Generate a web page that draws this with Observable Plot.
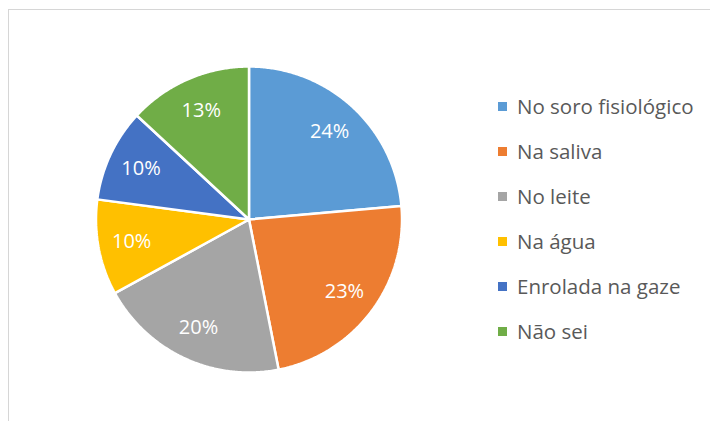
<!DOCTYPE html>
<html>
<head>
<meta charset="utf-8">
<script src="https://cdn.jsdelivr.net/npm/d3@7"></script>
<script src="https://cdn.jsdelivr.net/npm/@observablehq/plot@0.6"></script>
<style>
  body { margin: 0; background: #fff; width: 710px; height: 421px; overflow: hidden; position: relative; font-family: "Open Sans", sans-serif; }
  #frame { position: absolute; left: 8px; top: 9px; width: 800px; height: 500px; border-left: 1px solid #d6d6d6; border-top: 1px solid #d6d6d6; }
  #chart { position: absolute; left: 0; top: 0; }
  .item { position: absolute; left: 498px; height: 26px; display: flex; align-items: center; white-space: nowrap; color: #595959; font-size: 20.5px; }
  .sw { width: 9px; height: 9px; margin-right: 10px; flex: none; }
</style>
</head>
<body>
<div id="frame"></div>
<div id="chart"></div>
<div id="legend"></div>
<script>
const categories = ["No soro fisiológico", "Na saliva", "No leite", "Na água", "Enrolada na gaze", "Não sei"];
const values = [23.6, 23.3, 20.1, 10.1, 9.8, 13.1];
const colors = ["#5B9BD5", "#ED7D31", "#A5A5A5", "#FFC000", "#4472C4", "#70AD47"];

const total = d3.sum(values);
const arcs = d3.pie().sort(null).value(d => d)(values);

const poly = [];
arcs.forEach((a, i) => {
  const cat = categories[i];
  poly.push({cat, x: 0, y: 0});
  const n = Math.max(2, Math.ceil((a.endAngle - a.startAngle) / (Math.PI / 360)));
  for (let k = 0; k <= n; k++) {
    const t = a.startAngle + (a.endAngle - a.startAngle) * k / n;
    poly.push({cat, x: Math.sin(t), y: Math.cos(t)});
  }
});

const labels = arcs.map((a, i) => {
  const m = (a.startAngle + a.endAngle) / 2;
  return {x: 0.78 * Math.sin(m), y: 0.78 * Math.cos(m), text: Math.round(values[i] / total * 100) + "%"};
});

const chart = Plot.plot({
  width: 480,
  height: 421,
  margin: 0,
  style: {fontFamily: "'Open Sans', sans-serif", background: "transparent"},
  x: {domain: [-1, 1], range: [95.5, 401.5], axis: null},
  y: {domain: [-1, 1], range: [372, 66], axis: null},
  color: {domain: categories, range: colors},
  marks: [
    Plot.line(poly, {x: "x", y: "y", z: "cat", fill: "cat", stroke: "white", strokeWidth: 2.5, curve: "linear-closed", strokeLinejoin: "miter"}),
    Plot.text(labels, {x: "x", y: "y", text: "text", fill: "white", fontSize: 20})
  ]
});
document.getElementById("chart").appendChild(chart);

const legend = document.getElementById("legend");
categories.forEach((c, i) => {
  const item = document.createElement("div");
  item.className = "item";
  item.style.top = (106 + 45 * i - 13) + "px";
  const sw = document.createElement("span");
  sw.className = "sw";
  sw.style.background = colors[i];
  const tx = document.createElement("span");
  tx.textContent = c;
  item.appendChild(sw);
  item.appendChild(tx);
  legend.appendChild(item);
});
</script>
</body>
</html>
